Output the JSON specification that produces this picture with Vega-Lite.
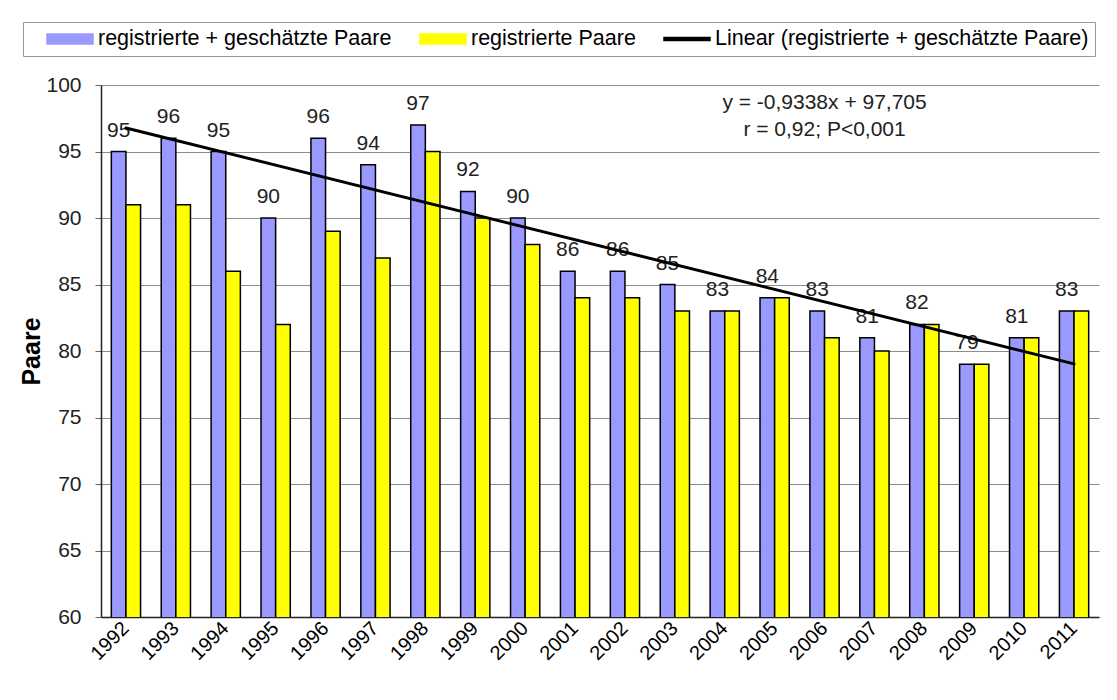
{
  "$schema": "https://vega.github.io/schema/vega-lite/v6.json",
  "width": 998,
  "height": 532,
  "autosize": {"type": "none"},
  "padding": {"left": 101, "top": 85, "right": 18, "bottom": 83},
  "background": "white",
  "config": {"view": {"stroke": null}, "font": "Liberation Sans"},
  "datasets": {
    "bars": [
      {"year": "1992", "series": "registrierte + geschätzte Paare", "value": 95},
      {"year": "1993", "series": "registrierte + geschätzte Paare", "value": 96},
      {"year": "1994", "series": "registrierte + geschätzte Paare", "value": 95},
      {"year": "1995", "series": "registrierte + geschätzte Paare", "value": 90},
      {"year": "1996", "series": "registrierte + geschätzte Paare", "value": 96},
      {"year": "1997", "series": "registrierte + geschätzte Paare", "value": 94},
      {"year": "1998", "series": "registrierte + geschätzte Paare", "value": 97},
      {"year": "1999", "series": "registrierte + geschätzte Paare", "value": 92},
      {"year": "2000", "series": "registrierte + geschätzte Paare", "value": 90},
      {"year": "2001", "series": "registrierte + geschätzte Paare", "value": 86},
      {"year": "2002", "series": "registrierte + geschätzte Paare", "value": 86},
      {"year": "2003", "series": "registrierte + geschätzte Paare", "value": 85},
      {"year": "2004", "series": "registrierte + geschätzte Paare", "value": 83},
      {"year": "2005", "series": "registrierte + geschätzte Paare", "value": 84},
      {"year": "2006", "series": "registrierte + geschätzte Paare", "value": 83},
      {"year": "2007", "series": "registrierte + geschätzte Paare", "value": 81},
      {"year": "2008", "series": "registrierte + geschätzte Paare", "value": 82},
      {"year": "2009", "series": "registrierte + geschätzte Paare", "value": 79},
      {"year": "2010", "series": "registrierte + geschätzte Paare", "value": 81},
      {"year": "2011", "series": "registrierte + geschätzte Paare", "value": 83},
      {"year": "1992", "series": "registrierte Paare", "value": 91},
      {"year": "1993", "series": "registrierte Paare", "value": 91},
      {"year": "1994", "series": "registrierte Paare", "value": 86},
      {"year": "1995", "series": "registrierte Paare", "value": 82},
      {"year": "1996", "series": "registrierte Paare", "value": 89},
      {"year": "1997", "series": "registrierte Paare", "value": 87},
      {"year": "1998", "series": "registrierte Paare", "value": 95},
      {"year": "1999", "series": "registrierte Paare", "value": 90},
      {"year": "2000", "series": "registrierte Paare", "value": 88},
      {"year": "2001", "series": "registrierte Paare", "value": 84},
      {"year": "2002", "series": "registrierte Paare", "value": 84},
      {"year": "2003", "series": "registrierte Paare", "value": 83},
      {"year": "2004", "series": "registrierte Paare", "value": 83},
      {"year": "2005", "series": "registrierte Paare", "value": 84},
      {"year": "2006", "series": "registrierte Paare", "value": 81},
      {"year": "2007", "series": "registrierte Paare", "value": 80},
      {"year": "2008", "series": "registrierte Paare", "value": 82},
      {"year": "2009", "series": "registrierte Paare", "value": 79},
      {"year": "2010", "series": "registrierte Paare", "value": 81},
      {"year": "2011", "series": "registrierte Paare", "value": 83}
    ],
    "trend": [
      {"year": "1992", "value": 96.77},
      {"year": "2011", "value": 79.03}
    ],
    "notes": [
      {"year": "2006", "value": 98.65, "label": "y = -0,9338x + 97,705"},
      {"year": "2006", "value": 96.6, "label": "r = 0,92; P<0,001"}
    ]
  },
  "encoding": {
    "x": {
      "field": "year",
      "type": "nominal",
      "scale": {"paddingInner": 0.414, "paddingOuter": 0.207},
      "axis": {
        "title": null,
        "labelAngle": -45,
        "labelAlign": "right",
        "labelBaseline": "middle",
        "labelFontSize": 20,
        "labelColor": "black",
        "labelPadding": 8,
        "ticks": false,
        "domainColor": "#222",
        "domainWidth": 1.5
      }
    },
    "y": {
      "field": "value",
      "type": "quantitative",
      "scale": {"domain": [60, 100], "zero": false, "nice": false},
      "axis": {
        "title": "Paare",
        "titleFontSize": 25,
        "titleFontWeight": "bold",
        "titleColor": "black",
        "titlePadding": 1,
        "values": [60, 65, 70, 75, 80, 85, 90, 95, 100],
        "labelFontSize": 21,
        "labelColor": "#222",
        "labelPadding": 14,
        "tickSize": 6,
        "tickColor": "#666",
        "domainColor": "#222",
        "domainWidth": 1.5,
        "gridColor": "#8c8c8c",
        "gridWidth": 1
      }
    }
  },
  "layer": [
    {
      "data": {"name": "bars"},
      "mark": {"type": "bar", "stroke": "black", "strokeWidth": 1.5, "clip": true},
      "encoding": {
        "xOffset": {"field": "series", "type": "nominal", "sort": ["registrierte + geschätzte Paare", "registrierte Paare"]},
        "color": {
          "field": "series",
          "type": "nominal",
          "scale": {
            "domain": ["registrierte + geschätzte Paare", "registrierte Paare", "Linear (registrierte + geschätzte Paare)"],
            "range": ["#9999FF", "#FFFF00", "#000000"]
          },
          "legend": {
            "orient": "none",
            "legendX": -78,
            "legendY": -63,
            "direction": "horizontal",
            "title": null,
            "strokeColor": "#999",
            "fillColor": "white",
            "padding": 6,
            "symbolSize": 2116,
            "symbolType": "M-1,-0.22H1V0.22H-1Z",
            "symbolStrokeColor": "black",
            "symbolStrokeWidth": 1.5,
            "symbolOffset": 17,
            "labelOffset": 4,
            "columnPadding": 10,
            "labelFontSize": 21.5,
            "labelColor": "black",
            "labelLimit": 600,
            "clipHeight": 22,
            "encode": {
              "symbols": {
                "update": {
                  "shape": {"signal": "datum.value == 'Linear (registrierte + geschätzte Paare)' ? 'M-1,-0.06H1V0.06H-1Z' : 'M-1,-0.22H1V0.22H-1Z'"},
                  "stroke": {"value": "black"}
                }
              }
            }
          }
        }
      }
    },
    {
      "data": {"name": "bars"},
      "transform": [{"filter": "datum.series == 'registrierte + geschätzte Paare'"}],
      "mark": {"type": "text", "fontSize": 21, "baseline": "alphabetic", "dy": -15, "color": "#222"},
      "encoding": {
        "xOffset": {"field": "series", "type": "nominal", "sort": ["registrierte + geschätzte Paare", "registrierte Paare"]},
        "text": {"field": "value", "type": "quantitative"}
      }
    },
    {
      "data": {"name": "trend"},
      "mark": {"type": "trail", "size": 3},
      "encoding": {
        "color": {"datum": "Linear (registrierte + geschätzte Paare)"}
      }
    },
    {
      "data": {"name": "notes"},
      "mark": {"type": "text", "fontSize": 21, "baseline": "middle", "align": "center", "color": "#222"},
      "encoding": {
        "text": {"field": "label", "type": "nominal"}
      }
    }
  ]
}
